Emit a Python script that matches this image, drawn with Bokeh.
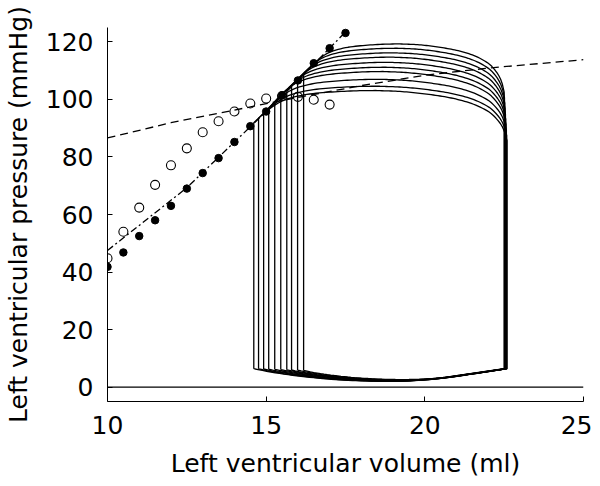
import numpy as np
from bokeh.plotting import figure
from bokeh.models import Range1d, FixedTicker
from bokeh.embed import file_html
from bokeh.resources import INLINE

# ---- data ----
# filled circles (end-systolic pressures of isovolumic beats)
filled_vol = [10, 10.5, 11, 11.5, 12, 12.5, 13, 13.5, 14, 14.5, 15, 15.5, 16, 16.5, 17, 17.5]
filled_pres = [41.8, 46.8, 52.5, 58.0, 63.0, 69.0, 74.4, 79.6, 85.2, 90.7, 95.8, 101.4, 106.6, 112.6, 117.8, 123.1]
# open circles
open_vol = [10, 10.5, 11, 11.5, 12, 12.5, 13, 13.5, 14, 14.5, 15, 15.5, 16, 16.5, 17]
open_pres = [44.8, 54.0, 62.4, 70.3, 77.1, 83.0, 88.6, 92.4, 95.8, 98.6, 100.3, 101.2, 100.9, 99.9, 98.2]
# dash-dot line (ESPVR)
espvr_vol = [10, 12.5, 14.5, 16, 17.55]
espvr_pres = [47.5, 69.3, 90.5, 106.6, 124.0]
# dashed curve
dash_vol = [10, 12, 14, 16, 18, 20, 22, 25]
dash_pres = [86.6, 91.9, 96.3, 100.7, 104.8, 108.4, 110.9, 113.8]

# pressure-volume loops (lowest to highest)
loop_esv = [14.61, 14.76, 14.92, 15.08, 15.27, 15.46, 15.65, 15.80, 15.99, 16.18]
loop_esp = [91.9, 93.5, 95.2, 96.9, 98.9, 100.9, 102.9, 104.5, 106.5, 108.5]
loop_peak = [103.1, 104.6, 107.0, 109.7, 111.2, 112.9, 114.7, 116.2, 117.8, 119.3]
loop_edv = [22.59, 22.58, 22.57, 22.56, 22.55, 22.54, 22.53, 22.52, 22.51, 22.50]
loop_edp_top = [85.7, 87.5, 89.4, 91.3, 93.1, 95.0, 96.8, 98.7, 100.6, 102.5]
loop_start_bottom = [6.4, 6.35, 6.3, 6.25, 6.2, 6.1, 6.0, 5.95, 5.9, 5.8]

# shared shape of the ejection curve (fraction of loop width -> fraction of rise / fall)
rise_s = [0, 0.03, 0.06, 0.09, 0.12, 0.16, 0.22, 0.30, 0.40, 0.48]
rise_f = [0, 0.22, 0.42, 0.58, 0.70, 0.80, 0.89, 0.95, 0.99, 1.0]
fall_s = [0.48, 0.58, 0.68, 0.78, 0.86, 0.92, 0.95, 0.975, 0.99, 1.0]
fall_f = [1.0, 0.98, 0.93, 0.85, 0.74, 0.60, 0.48, 0.33, 0.18, 0.0]
# lower envelope of the filling curves
fill_vol = [14.5, 15.5, 16.5, 17.5, 18.5, 19.5, 20.5, 21.5, 22.6]
fill_pres = [5.0, 3.6, 2.6, 2.0, 1.8, 2.0, 2.9, 4.5, 6.4]
# decay of each loop's offset from the lower envelope (distance from left corner, ml)
fill_decay_d = [0, 0.3, 0.8, 1.5, 2.5, 4.0, 8.0]
fill_decay_w = [1, 0.85, 0.68, 0.5, 0.32, 0.14, 0.0]

x_ticks = [10, 15, 20, 25]
y_ticks = [0, 20, 40, 60, 80, 100, 120]


def smooth(xs, ys, n=12):
    """Catmull-Rom through given nodes, returns dense (x, y)."""
    xs = np.asarray(xs, float); ys = np.asarray(ys, float)
    px = np.concatenate([[2 * xs[0] - xs[1]], xs, [2 * xs[-1] - xs[-2]]])
    py = np.concatenate([[2 * ys[0] - ys[1]], ys, [2 * ys[-1] - ys[-2]]])
    ox, oy = [], []
    t = np.linspace(0, 1, n, endpoint=False)
    for i in range(1, len(px) - 2):
        p0x, p1x, p2x, p3x = px[i - 1:i + 3]
        p0y, p1y, p2y, p3y = py[i - 1:i + 3]
        for arr, a0, a1, a2, a3 in ((ox, p0x, p1x, p2x, p3x), (oy, p0y, p1y, p2y, p3y)):
            arr.extend(0.5 * ((2 * a1) + (-a0 + a2) * t + (2 * a0 - 5 * a1 + 4 * a2 - a3) * t ** 2
                              + (-a0 + 3 * a1 - 3 * a2 + a3) * t ** 3))
    ox.append(xs[-1]); oy.append(ys[-1])
    return np.array(ox), np.array(oy)


rs_x, rs_y = smooth(rise_s, rise_f)
fs_x, fs_y = smooth(fall_s, fall_f)
fv_x, fv_y = smooth(fill_vol, fill_pres)


def envelope(v):
    return np.interp(v, fv_x, fv_y)


loops_x, loops_y = [], []
for vl, pl, pp, ved, pr, pb in zip(loop_esv, loop_esp, loop_peak, loop_edv, loop_edp_top, loop_start_bottom):
    w = ved - vl
    s1 = np.linspace(0, 0.48, 40)
    top1_v = vl + s1 * w
    top1_p = pl + (pp - pl) * np.interp(s1, rs_x, rs_y)
    s2 = np.linspace(0.48, 1.0, 60)
    top2_v = vl + s2 * w
    top2_p = pr + (pp - pr) * np.interp(s2, fs_x, fs_y)
    off = pb - envelope(vl)
    bv = np.linspace(ved, vl, 60)
    bp = envelope(bv) + off * np.interp(bv - vl, fill_decay_d, fill_decay_w)
    xs = np.concatenate([[vl], top1_v, top2_v, [ved], bv, [vl]])
    ys = np.concatenate([[pb], top1_p, top2_p, [bp[0]], bp, [pb]])
    loops_x.append(list(xs)); loops_y.append(list(ys))

FONT = "DejaVu Sans"

p = figure(frame_width=476, frame_height=374, x_range=Range1d(10, 25), y_range=Range1d(-5, 125),
           output_backend="svg", toolbar_location=None,
           min_border_left=99, min_border_right=9, min_border_top=27, min_border_bottom=60)
p.outline_line_color = None
p.grid.visible = False
p.background_fill_color = "white"

# zero line
p.line([10, 25], [0, 0], line_color="black", line_width=1.2)

# loops
p.multi_line(loops_x, loops_y, line_color="black", line_width=1.3)

# dashed curve
p.line(dash_vol, dash_pres, line_color="black", line_width=1.3, line_dash="8 5")
# dash-dot ESPVR
p.line(espvr_vol, espvr_pres, line_color="black", line_width=1.3, line_dash="7 3 2 3")

p.scatter(open_vol, open_pres, size=9, marker="circle", fill_color=None, line_color="black", line_width=1.1)
p.scatter(filled_vol, filled_pres, size=7.5, marker="circle", fill_color="black", line_color="black")

for ax in (p.xaxis[0], p.yaxis[0]):
    ax.major_tick_in = 5
    ax.major_tick_out = 0
    ax.minor_tick_in = 0
    ax.minor_tick_out = 0
    ax.axis_line_color = "black"
    ax.axis_line_width = 1
    ax.major_tick_line_color = "black"
    ax.major_label_text_font = FONT
    ax.major_label_text_font_size = "25px"
    ax.major_label_text_color = "black"
    ax.axis_label_text_font = FONT
    ax.axis_label_text_font_size = "25px"
    ax.axis_label_text_font_style = "normal"
    ax.axis_label_text_color = "black"

p.xaxis[0].major_label_standoff = 14
p.yaxis[0].major_label_standoff = 14
p.xaxis[0].ticker = FixedTicker(ticks=x_ticks)
p.yaxis[0].ticker = FixedTicker(ticks=y_ticks)
p.xaxis[0].axis_label = "Left ventricular volume (ml)"
p.yaxis[0].axis_label = "Left ventricular pressure (mmHg)"
p.xaxis[0].axis_label_standoff = 12
p.yaxis[0].axis_label_standoff = 10

open("out.html", "w").write(file_html(p, INLINE))
